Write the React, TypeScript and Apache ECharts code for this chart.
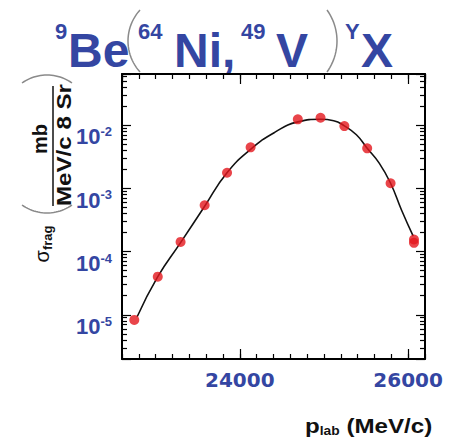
import React, { useEffect, useRef } from "react";
import * as echarts from "echarts";

// ---- data ----
const pointsX = [22746, 23025, 23296, 23582, 23848, 24128, 24689, 24959, 25242, 25513, 25791, 26069, 26069];
const pointsY = [8.3e-6, 4.0e-5, 1.42e-4, 5.38e-4, 1.76e-3, 4.44e-3, 1.23e-2, 1.3e-2, 9.6e-3, 4.28e-3, 1.2e-3, 1.55e-4, 1.37e-4];

const curveX = [22780, 23020, 23296, 23582, 23845, 24131, 24418, 24689, 24959, 25115, 25242, 25385, 25513, 25656, 25791, 25922, 26060];
const curveY = [9.3e-6, 3.9e-5, 1.38e-4, 5.2e-4, 1.74e-3, 4.15e-3, 7.7e-3, 1.12e-2, 1.23e-2, 1.17e-2, 9.7e-3, 7.0e-3, 4.3e-3, 2.5e-3, 1.2e-3, 4.5e-4, 1.75e-4];

const xLabels = [24000, 26000];
const yLabelExps = [-5, -4, -3, -2];

const xMin = 22600;
const xMax = 26200;
const yMin = 2.0e-6;
const yMax = 0.064;

const BLUE = "#3446a2";
const RED = "#e3161d";
const GREY = "#8a8a8a";

// points of a circular arc through p0 -> apex -> p2 (decoration for parentheses)
function arcPoints(x1: number, y1: number, x2: number, y2: number, ax: number, ay: number): number[][] {
  const mx = (x1 + x2) / 2;
  const my = (y1 + y2) / 2;
  const half = Math.hypot(x2 - x1, y2 - y1) / 2;
  const sag = Math.hypot(ax - mx, ay - my);
  const r = (half * half + sag * sag) / (2 * sag);
  const ux = (ax - mx) / sag;
  const uy = (ay - my) / sag;
  const cx = ax - ux * r;
  const cy = ay - uy * r;
  const a0 = Math.atan2(y1 - cy, x1 - cx);
  let a1 = Math.atan2(y2 - cy, x2 - cx);
  const amid = Math.atan2(ay - cy, ax - cx);
  // choose direction that passes through apex
  let d = a1 - a0;
  while (d > Math.PI) d -= 2 * Math.PI;
  while (d < -Math.PI) d += 2 * Math.PI;
  let dm = amid - a0;
  while (dm > Math.PI) dm -= 2 * Math.PI;
  while (dm < -Math.PI) dm += 2 * Math.PI;
  if (Math.sign(dm) !== Math.sign(d)) d = d > 0 ? d - 2 * Math.PI : d + 2 * Math.PI;
  const pts: number[][] = [];
  const n = 24;
  for (let i = 0; i <= n; i++) {
    const a = a0 + (d * i) / n;
    pts.push([cx + r * Math.cos(a), cy + r * Math.sin(a)]);
  }
  return pts;
}

export default function App() {
  const ref = useRef<HTMLDivElement>(null);

  useEffect(() => {
    if (!ref.current) return;
    const chart = echarts.init(ref.current, null, { renderer: "svg" });

    const tickStyle = { color: "#000", width: 1.2 };
    const frameLine = { show: true, onZero: false, lineStyle: { color: "#000", width: 2 } };

    const xMinorAxis = (position: string) => ({
      type: "value",
      position,
      min: xMin,
      max: xMax,
      interval: 200,
      axisLine: frameLine,
      axisTick: { show: true, inside: true, length: 5, lineStyle: tickStyle },
      axisLabel: { show: false },
      splitLine: { show: false },
    });
    const xMajorAxis = (position: string, labels: boolean) => ({
      type: "value",
      position,
      min: xMin,
      max: xMax,
      splitNumber: 2,
      axisLine: { show: false },
      axisTick: { show: true, inside: true, length: 10, lineStyle: tickStyle },
      axisLabel: {
        show: labels,
        showMinLabel: false,
        showMaxLabel: false,
        margin: 11,
        fontFamily: "DejaVu Sans",
        fontWeight: "bold",
        fontSize: 20,
        color: BLUE,
        formatter: (v: number) => (xLabels.includes(v) ? String(v) : ""),
      },
      splitLine: { show: false },
    });

    const yAxis = (position: string, labels: boolean) => ({
      type: "log",
      logBase: 10,
      position,
      min: yMin,
      max: yMax,
      axisLine: frameLine,
      axisTick: { show: true, inside: true, length: 9, lineStyle: tickStyle },
      minorTick: { show: true, splitNumber: 9, length: 5, lineStyle: tickStyle },
      splitLine: { show: false },
      minorSplitLine: { show: false },
      axisLabel: {
        show: labels,
        showMinLabel: false,
        showMaxLabel: false,
        margin: 10,
        verticalAlign: "top",
        formatter: (v: number) => {
          const l = Math.log10(v);
          const e = Math.round(l);
          if (Math.abs(l - e) > 1e-6 || !yLabelExps.includes(e)) return "";
          return `{b|10}{s|${e}}`;
        },
        rich: {
          b: { fontFamily: "Liberation Sans", fontWeight: "bold", fontSize: 22, color: BLUE, lineHeight: 24 },
          s: { fontFamily: "Liberation Sans", fontWeight: "bold", fontSize: 13, color: BLUE, verticalAlign: "top", lineHeight: 14 },
        },
      },
    });

    const titleText = (text: string, x: number, y: number, size: number) => ({
      type: "text",
      x,
      y,
      style: {
        text,
        fill: BLUE,
        fontFamily: "Liberation Sans",
        fontWeight: "bold",
        fontSize: size,
        verticalAlign: "middle",
        align: "left",
      },
    });

    const paren = (x1: number, y1: number, x2: number, y2: number, ax: number, ay: number) => ({
      type: "polyline",
      shape: { points: arcPoints(x1, y1, x2, y2, ax, ay) },
      style: { stroke: GREY, lineWidth: 1.5, fill: "none" },
    });

    const option: any = {
      animation: false,
      backgroundColor: "#fff",
      grid: { left: 122, top: 74, width: 303, height: 285, containLabel: false },
      xAxis: [xMinorAxis("bottom"), xMajorAxis("bottom", true), xMinorAxis("top"), xMajorAxis("top", false)],
      yAxis: [yAxis("left", true), yAxis("right", false)],
      series: [
        {
          type: "line",
          name: "fit",
          xAxisIndex: 0,
          yAxisIndex: 0,
          data: curveX.map((x, i) => [x, curveY[i]]),
          smooth: true,
          symbol: "none",
          lineStyle: { color: "#111", width: 1.6 },
          z: 2,
        },
        {
          type: "scatter",
          name: "data",
          xAxisIndex: 0,
          yAxisIndex: 0,
          data: pointsX.map((x, i) => [x, pointsY[i]]),
          symbol: "circle",
          symbolSize: 10,
          itemStyle: { color: RED },
          z: 3,
        },
      ],
      graphic: [
        // title
        titleText("9", 55, 31, 22),
        titleText("Be", 68, 50, 48),
        paren(140, 10, 140, 72, 128, 41),
        titleText("64", 138, 31, 22),
        titleText("Ni,", 174, 50, 48),
        titleText("49", 241, 31, 22),
        titleText("V", 276, 50, 48),
        paren(327, 10, 327, 72, 337, 41),
        titleText("Y", 345, 31, 22),
        titleText("X", 361, 50, 48),
        // y axis title
        {
          type: "text",
          x: 40,
          y: 139,
          rotation: Math.PI / 2,
          style: {
            text: "mb",
            fill: "#111",
            fontFamily: "Liberation Sans",
            fontWeight: "bold",
            fontSize: 20,
            align: "center",
            verticalAlign: "middle",
          },
        },
        {
          type: "line",
          shape: { x1: 53, y1: 86, x2: 53, y2: 206 },
          style: { stroke: "#111", lineWidth: 1.5 },
        },
        {
          type: "text",
          x: 64,
          y: 145,
          rotation: Math.PI / 2,
          scaleX: 1.15,
          style: {
            text: "MeV/c 8 Sr",
            fill: "#111",
            fontFamily: "Liberation Sans",
            fontWeight: "bold",
            fontSize: 21,
            align: "center",
            verticalAlign: "middle",
          },
        },
        paren(22, 83, 72, 83, 47, 75),
        paren(22, 205, 72, 205, 47, 213),
        {
          type: "text",
          x: 42,
          y: 244,
          rotation: Math.PI / 2,
          style: {
            text: "{a|σ}{s|frag}",
            align: "center",
            verticalAlign: "middle",
            rich: {
              a: { fontFamily: "Liberation Sans", fontSize: 20, fill: "#111", lineHeight: 24 },
              s: { fontFamily: "Liberation Sans", fontWeight: "bold", fontSize: 13, fill: "#111", verticalAlign: "bottom", lineHeight: 14 },
            },
          },
        },
        // x axis title
        {
          type: "text",
          x: 305,
          y: 426,
          scaleX: 1.15,
          style: {
            text: "{p|p}{s|lab}{p| (MeV/c)}",
            align: "left",
            verticalAlign: "middle",
            rich: {
              p: { fontFamily: "Liberation Sans", fontWeight: "bold", fontSize: 21, fill: "#111", lineHeight: 22 },
              s: { fontFamily: "Liberation Sans", fontWeight: "bold", fontSize: 12, fill: "#111", verticalAlign: "bottom", lineHeight: 12 },
            },
          },
        },
      ],
    };

    chart.setOption(option);
    return () => chart.dispose();
  }, []);

  return (
    <div
      ref={ref}
      style={{ position: "fixed", left: 0, top: 0, width: 453, height: 437, background: "#fff" }}
    />
  );
}
